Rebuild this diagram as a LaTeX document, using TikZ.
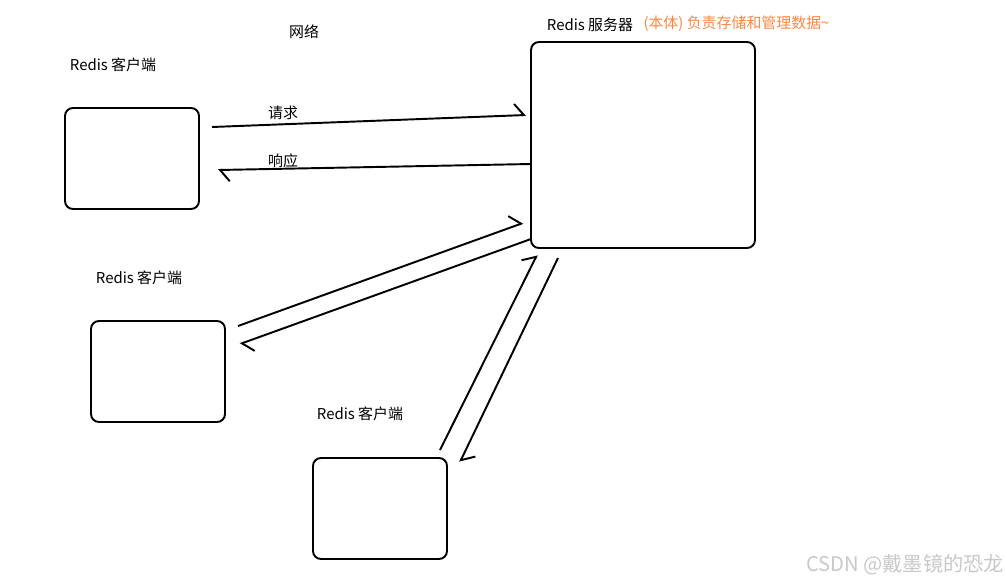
\documentclass[tikz,border=0pt]{standalone}
\usepackage{fontspec}
\setmainfont{Noto Sans CJK SC}
\usetikzlibrary{arrows.meta}
\definecolor{noteorange}{RGB}{249,135,67}
\definecolor{markgray}{RGB}{200,200,200}

\begin{document}
\begin{tikzpicture}[x=0.02cm, y=-0.02cm, line width=1.1pt,
    box/.style={draw, rounded corners=4.5pt, inner sep=0pt},
    lbl/.style={inner sep=0pt, font=\fontsize{8.5}{10}\selectfont},
    flow/.style={-{Straight Barb[harpoon, length=1.9mm, width=4.6mm]}}]
    \useasboundingbox (0,0) rectangle (1005,582);

    % server and clients
    \node[box, minimum width=4.48cm, minimum height=4.12cm] (srv) at (643,145) {};
    \node[box, minimum width=2.68cm, minimum height=2.02cm] (cli1) at (132,158.5) {};
    \node[box, minimum width=2.68cm, minimum height=2.02cm] (cli2) at (158,371.5) {};
    \node[box, minimum width=2.68cm, minimum height=2.02cm] (cli3) at (380,508.5) {};

    \node[lbl] (srvname) at (590,25) {Redis 服务器};
    \node[lbl, noteorange] (srvnote) at (736.5,24) {(本体) 负责存储和管理数据\textasciitilde};
    \node[lbl] (net) at (304,32) {网络};
    \node[lbl] (cliname1) at (113,65) {Redis 客户端};
    \node[lbl] (cliname2) at (139,278) {Redis 客户端};
    \node[lbl] (cliname3) at (360,414) {Redis 客户端};

    % ends of the hand-drawn arrows
    \coordinate (reqA) at (212,127);   \coordinate (reqB) at (526,115);
    \coordinate (respA) at (531,164);  \coordinate (respB) at (218,170);
    \coordinate (upA) at (238,326);    \coordinate (upB) at (523,223);
    \coordinate (downA) at (531,239);  \coordinate (downB) at (240,344);
    \coordinate (upC) at (440,450);    \coordinate (upD) at (537,255);
    \coordinate (downC) at (558,258);  \coordinate (downD) at (460,462);

    % client 1
    \draw[flow] (reqA) -- (reqB);
    \draw[flow] (respA) -- (respB);
    \node[lbl] (req) at (283,113) {请求};
    \node[lbl] (resp) at (283,161) {响应};

    % client 2
    \draw[flow] (upA) -- (upB);
    \draw[flow] (downA) -- (downB);

    % client 3
    \draw[flow] (upC) -- (upD);
    \draw[flow] (downC) -- (downD);

    \node[inner sep=0pt, markgray, font=\fontsize{11.5}{13}\selectfont] (mark) at (905,565) {CSDN @戴墨镜的恐龙};
\end{tikzpicture}
\end{document}
